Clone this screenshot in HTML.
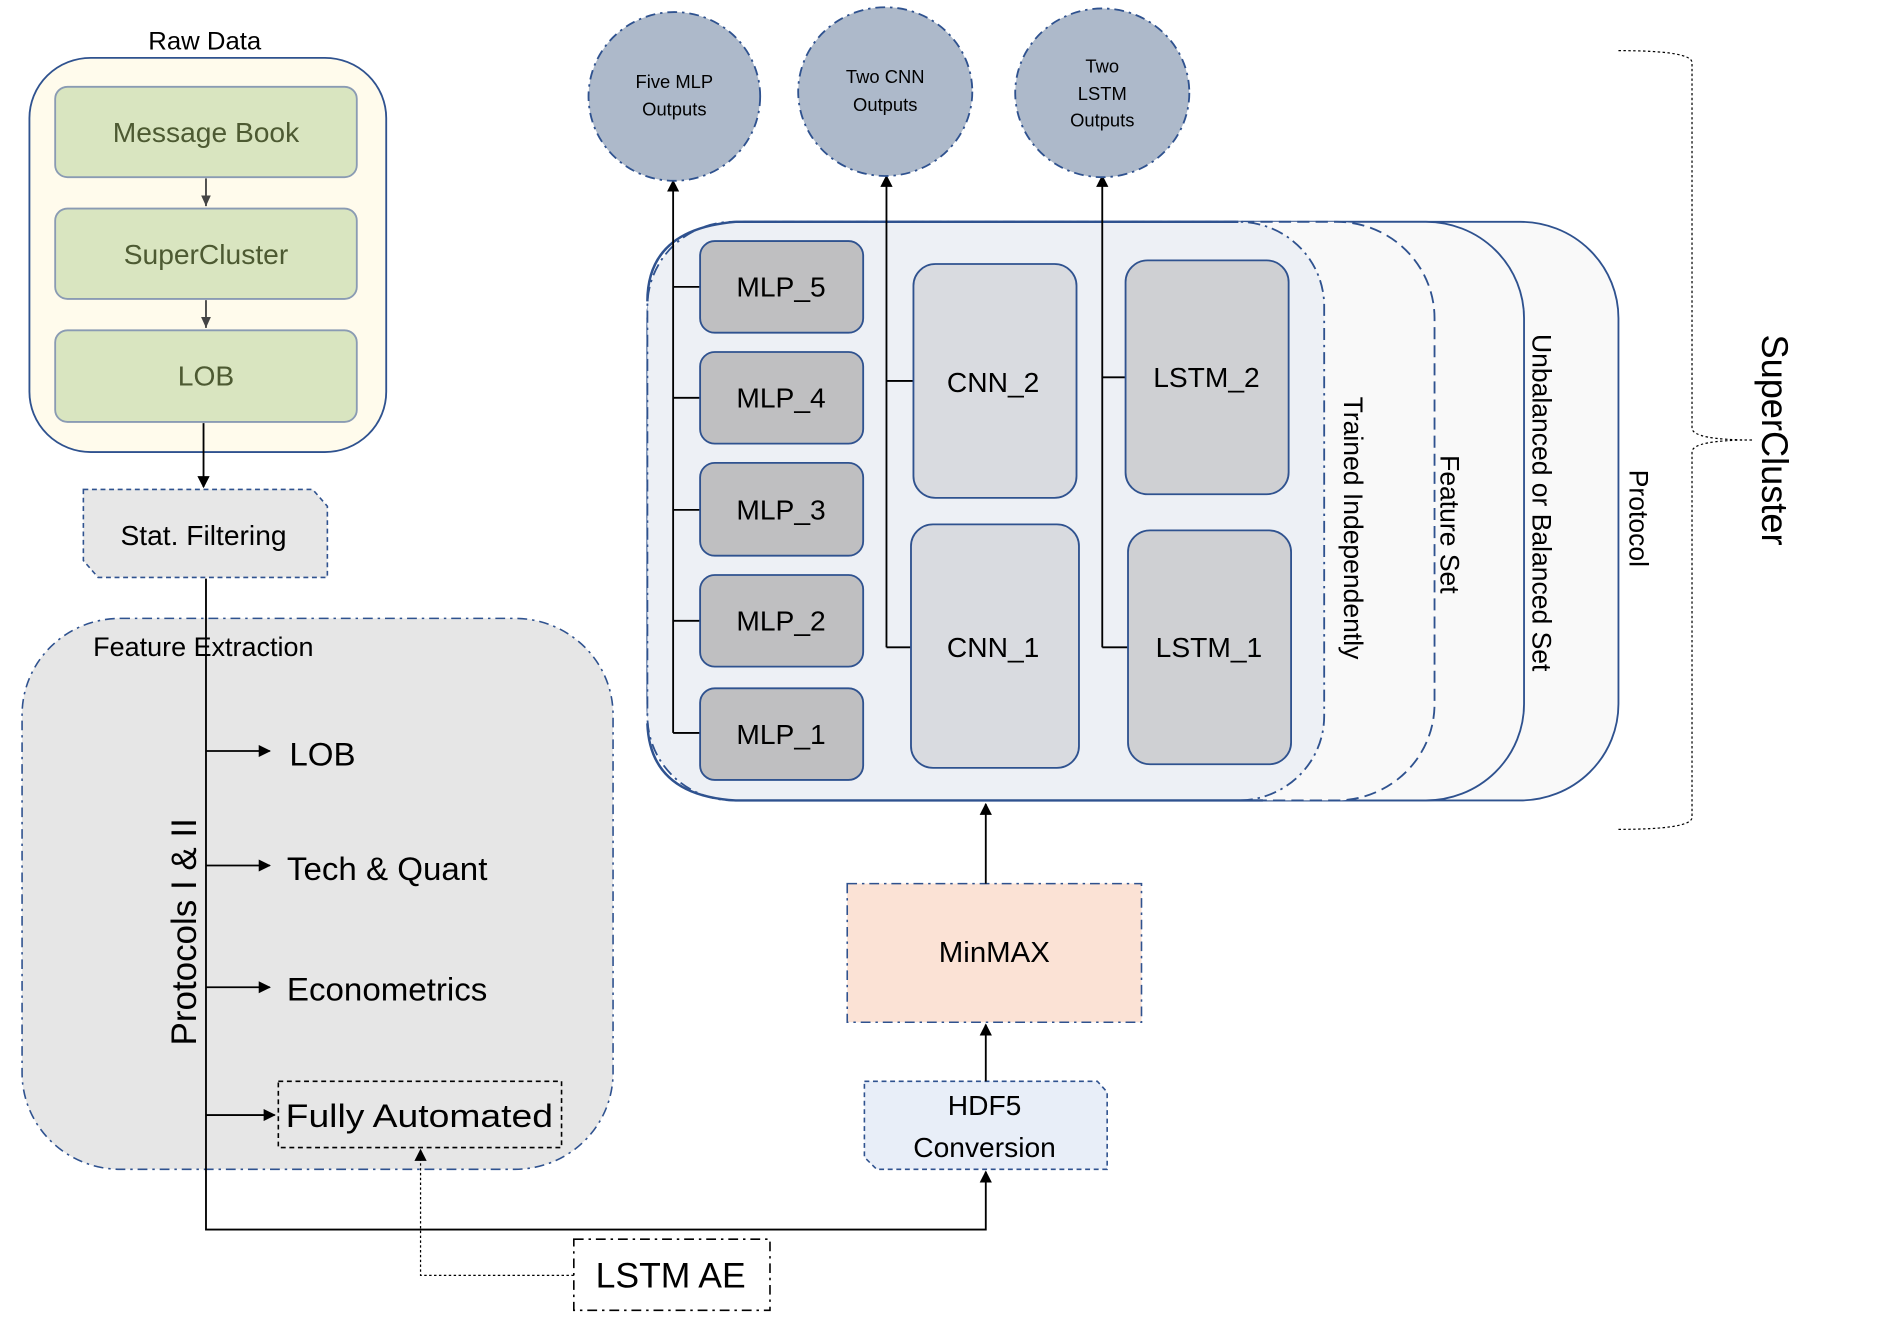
<!DOCTYPE html>
<html><head><meta charset="utf-8"><style>
html,body{margin:0;padding:0;background:#fff;}
svg{display:block;}
text{font-family:"Liberation Sans",sans-serif;}
</style></head><body>
<svg width="1898" height="1326" viewBox="0 0 1548 1100" preserveAspectRatio="none" xmlns="http://www.w3.org/2000/svg">
<defs>
<marker id="a" markerWidth="10" markerHeight="10" refX="9" refY="5" orient="auto" markerUnits="userSpaceOnUse"><path d="M0,0 L10,5 L0,10 z" fill="#000"/></marker>
<marker id="g" markerWidth="10" markerHeight="10" refX="9" refY="5" orient="auto" markerUnits="userSpaceOnUse"><path d="M0,1 L9,5 L0,9 z" fill="#444"/></marker>
</defs>
<rect width="1548" height="1100" fill="#fff"/>

<!-- Raw data -->
<text x="167" y="41" font-size="21" text-anchor="middle">Raw Data</text>
<rect x="24" y="48" width="291" height="327" rx="50" fill="#fffbec" stroke="#2f528f" stroke-width="1.5"/>
<g stroke="#8a9bb3" stroke-width="1.5" fill="#d9e5c0">
<rect x="45" y="72" width="246" height="75" rx="10"/>
<rect x="45" y="173" width="246" height="75" rx="10"/>
<rect x="45" y="274" width="246" height="76" rx="10"/>
</g>
<g font-size="23" fill="#4d5a32" text-anchor="middle">
<text x="168" y="118">Message Book</text>
<text x="168" y="219">SuperCluster</text>
<text x="168" y="320">LOB</text>
</g>
<line x1="168" y1="148" x2="168" y2="171" stroke="#444" stroke-width="1.5" marker-end="url(#g)"/>
<line x1="168" y1="249" x2="168" y2="272" stroke="#444" stroke-width="1.5" marker-end="url(#g)"/>
<line x1="166" y1="351" x2="166" y2="404" stroke="#000" stroke-width="1.5" marker-end="url(#a)"/>

<!-- Stat filtering -->
<path d="M68,406 L255,406 L267,420 L267,479 L80,479 L68,465 Z" fill="#e7e7e7" stroke="#2f528f" stroke-width="1.3" stroke-dasharray="4,3"/>
<text x="166" y="452" font-size="23" text-anchor="middle">Stat. Filtering</text>

<!-- Feature extraction -->
<rect x="18" y="513" width="482" height="457" rx="80" fill="#e6e6e6" stroke="#2f528f" stroke-width="1.3" stroke-dasharray="8,4,2,4"/>
<text x="76" y="544" font-size="22">Feature Extraction</text>
<polyline points="168,480 168,1020 804,1020 804,972" fill="none" stroke="#000" stroke-width="1.5" marker-end="url(#a)"/>
<g stroke="#000" stroke-width="1.5">
<line x1="168" y1="623" x2="220" y2="623" marker-end="url(#a)"/>
<line x1="168" y1="718" x2="220" y2="718" marker-end="url(#a)"/>
<line x1="168" y1="819" x2="220" y2="819" marker-end="url(#a)"/>
<line x1="168" y1="925" x2="224" y2="925" marker-end="url(#a)"/>
</g>
<g font-size="27">
<text x="236" y="635">LOB</text>
<text x="234" y="730">Tech &amp; Quant</text>
<text x="234" y="830">Econometrics</text>
</g>
<rect x="227" y="897" width="231" height="55" fill="none" stroke="#000" stroke-width="1.3" stroke-dasharray="4,3"/>
<text x="342" y="935" font-size="27" text-anchor="middle" textLength="218" lengthAdjust="spacingAndGlyphs">Fully Automated</text>
<text transform="translate(160,773) rotate(-90)" font-size="29" text-anchor="middle">Protocols I &amp; II</text>

<!-- LSTM AE -->
<rect x="468" y="1028" width="160" height="59" fill="#fff" stroke="#000" stroke-width="1.3" stroke-dasharray="8,4,2,4"/>
<text x="547" y="1068" font-size="29" text-anchor="middle">LSTM AE</text>
<polyline points="468,1058 343,1058 343,954" fill="none" stroke="#000" stroke-width="1" stroke-dasharray="2,2" marker-end="url(#a)"/>

<!-- HDF5 -->
<path d="M705,897 L895,897 L903,906 L903,970 L715,970 L705,960 Z" fill="#e8eef8" stroke="#2f528f" stroke-width="1.3" stroke-dasharray="4,3"/>
<text x="803" y="925" font-size="23" text-anchor="middle">HDF5</text>
<text x="803" y="960" font-size="23" text-anchor="middle">Conversion</text>
<line x1="804" y1="897" x2="804" y2="850" stroke="#000" stroke-width="1.5" marker-end="url(#a)"/>

<!-- MinMAX -->
<rect x="691" y="733" width="240" height="115" fill="#fbe2d5" stroke="#2f528f" stroke-width="1.3" stroke-dasharray="8,4,2,4"/>
<text x="811" y="798" font-size="24" text-anchor="middle">MinMAX</text>
<line x1="804" y1="733" x2="804" y2="667" stroke="#000" stroke-width="1.5" marker-end="url(#a)"/>

<!-- nested boxes -->
<rect x="528" y="184" width="792" height="480" rx="80" fill="#f9f9f9" stroke="#2f528f" stroke-width="1.5"/>
<rect x="528" y="184" width="715" height="480" rx="80" fill="#f9f9f9" stroke="#2f528f" stroke-width="1.5"/>
<rect x="528" y="184" width="642" height="480" rx="80" fill="#f9f9f9" stroke="#2f528f" stroke-width="1.5" stroke-dasharray="10,5"/>
<rect x="528" y="184" width="552" height="480" rx="70" fill="#edf0f5" stroke="#2f528f" stroke-width="1.5" stroke-dasharray="10,4,2,4"/>
<path d="M600,184 L1010,184 M528,250 Q528,190 600,184" fill="none" stroke="#2f528f" stroke-width="2"/>
<path d="M528,600 Q530,660 600,664 L1030,664" fill="none" stroke="#2f528f" stroke-width="2"/>
<g font-size="22">
<text transform="translate(1096,438) rotate(90)" text-anchor="middle">Trained Independently</text>
<text transform="translate(1175,435) rotate(90)" text-anchor="middle">Feature Set</text>
<text transform="translate(1250,417) rotate(90)" text-anchor="middle">Unbalanced or Balanced Set</text>
<text transform="translate(1329,430) rotate(90)" text-anchor="middle">Protocol</text>
</g>
<text transform="translate(1437,365) rotate(90)" font-size="30" text-anchor="middle">SuperCluster</text>
<path d="M1320,42 Q1380,42 1380,52 L1380,355 Q1380,365 1430,365 Q1380,365 1380,375 L1380,678 Q1380,688 1320,688" fill="none" stroke="#000" stroke-width="1" stroke-dasharray="2,2"/>

<!-- connectors -->
<g stroke="#000" stroke-width="1.5" fill="none">
<line x1="549" y1="608" x2="549" y2="150" marker-end="url(#a)"/>
<line x1="549" y1="238" x2="571" y2="238"/>
<line x1="549" y1="330" x2="571" y2="330"/>
<line x1="549" y1="423" x2="571" y2="423"/>
<line x1="549" y1="515" x2="571" y2="515"/>
<line x1="549" y1="608" x2="571" y2="608"/>
<line x1="723" y1="537" x2="723" y2="146" marker-end="url(#a)"/>
<line x1="723" y1="316" x2="745" y2="316"/>
<line x1="723" y1="537" x2="743" y2="537"/>
<line x1="899" y1="537" x2="899" y2="146" marker-end="url(#a)"/>
<line x1="899" y1="313" x2="918" y2="313"/>
<line x1="899" y1="537" x2="920" y2="537"/>
</g>
<g fill="#bfbfc1" stroke="#2f528f" stroke-width="1.5">
<rect x="571" y="200" width="133" height="76" rx="12"/>
<rect x="571" y="292" width="133" height="76" rx="12"/>
<rect x="571" y="384" width="133" height="77" rx="12"/>
<rect x="571" y="477" width="133" height="76" rx="12"/>
<rect x="571" y="571" width="133" height="76" rx="12"/>
</g>
<rect x="745" y="219" width="133" height="194" rx="18" fill="#d9dbe0" stroke="#2f528f" stroke-width="1.5"/>
<rect x="743" y="435" width="137" height="202" rx="18" fill="#d9dbe0" stroke="#2f528f" stroke-width="1.5"/>
<rect x="918" y="216" width="133" height="194" rx="18" fill="#cfd0d3" stroke="#2f528f" stroke-width="1.5"/>
<rect x="920" y="440" width="133" height="194" rx="18" fill="#cfd0d3" stroke="#2f528f" stroke-width="1.5"/>
<g font-size="23" text-anchor="middle">
<text x="637" y="246">MLP_5</text>
<text x="637" y="338">MLP_4</text>
<text x="637" y="431">MLP_3</text>
<text x="637" y="523">MLP_2</text>
<text x="637" y="617">MLP_1</text>
<text x="810" y="325">CNN_2</text>
<text x="810" y="545">CNN_1</text>
<text x="984" y="321">LSTM_2</text>
<text x="986" y="545">LSTM_1</text>
</g>

<!-- output circles -->
<g fill="#adb9ca" stroke="#2f528f" stroke-width="1.5" stroke-dasharray="8,4,2,4">
<ellipse cx="550" cy="80" rx="70" ry="70"/>
<ellipse cx="722" cy="76" rx="71" ry="70"/>
<ellipse cx="899" cy="77" rx="71" ry="70"/>
</g>
<g font-size="15" text-anchor="middle">
<text x="550" y="73">Five MLP</text>
<text x="550" y="96">Outputs</text>
<text x="722" y="69">Two CNN</text>
<text x="722" y="92">Outputs</text>
<text x="899" y="60">Two</text>
<text x="899" y="83">LSTM</text>
<text x="899" y="105">Outputs</text>
</g>
</svg>
</body></html>
